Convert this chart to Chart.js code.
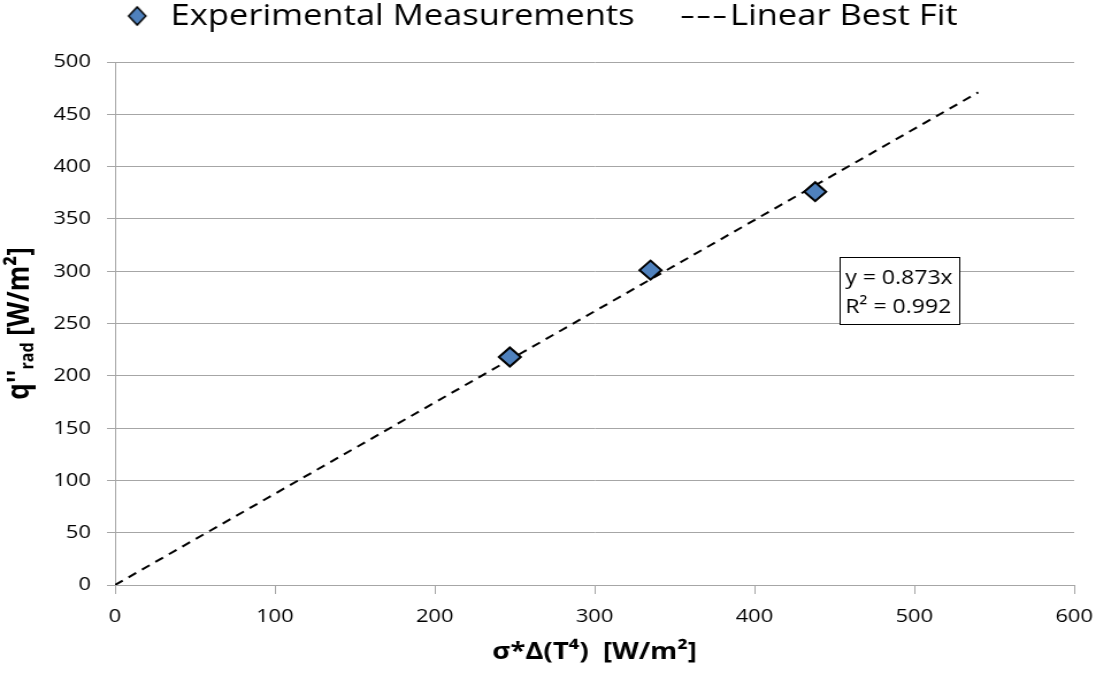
<!DOCTYPE html>
<html>
<head>
<meta charset="utf-8">
<script src="https://cdn.jsdelivr.net/npm/chart.js@4.4.1/dist/chart.umd.min.js"></script>
<style>
  html, body { margin: 0; padding: 0; background: #fff; overflow: hidden; }
  /* 原图是横向拉伸过的，这里用同样的比例拉伸画布 */
  #wrap { width: 953px; height: 679px; transform: scaleX(1.15005); transform-origin: 0 0; }
</style>
</head>
<body>
<div id="wrap"><canvas id="fitChart"></canvas></div>
<script>
// 数据
const measX = [247, 335, 438];
const measY = [218, 301, 376];
const fitX = [0, 540];
const fitY = [0, 471];
const fitText = ['y = 0.873x', 'R\u00b2 = 0.992'];
const xTicks = [0, 100, 200, 300, 400, 500, 600];
const yTicks = [0, 50, 100, 150, 200, 250, 300, 350, 400, 450, 500];

const FONT = '"Open Sans", "DejaVu Sans", sans-serif';
const GRID = '#a6a6a6';

Chart.defaults.font.family = FONT;
Chart.defaults.color = '#000';

// 图例用的小图标
function diamondIcon() {
    const c = document.createElement('canvas');
    c.width = 22; c.height = 24;
    const g = c.getContext('2d');
    g.beginPath();
    g.moveTo(11, 3); g.lineTo(18.5, 12); g.lineTo(11, 21); g.lineTo(3.5, 12); g.closePath();
    g.fillStyle = '#4f81bd';
    g.fill();
    g.lineWidth = 1.5;
    g.strokeStyle = '#000';
    g.stroke();
    return c;
}
function dashIcon() {
    const c = document.createElement('canvas');
    c.width = 60; c.height = 8;
    const g = c.getContext('2d');
    g.fillStyle = '#000';
    for (let i = 0; i < 3; i++) g.fillRect(17 + i * 14, 4, 10, 2);
    return c;
}

// 图例位置微调
const legendShift = {
    id: 'legendShift',
    afterLayout(chart) {
        const lg = chart.legend;
        if (!lg) return;
        const h = lg.bottom - lg.top;
        lg.top = 0;
        lg.bottom = h;
        lg.left += 2;
        lg.right += 2;
    }
};

// 轴标题和公式框
const extrasPlugin = {
    id: 'extras',
    afterDraw(chart) {
        const ctx = chart.ctx;
        const area = chart.chartArea;
        const xs = chart.scales.x, ys = chart.scales.y;
        ctx.save();

        // y 轴标题 (带下标)
        ctx.translate(25, (area.top + area.bottom) / 2);
        ctx.rotate(-Math.PI / 2);
        const big = 'bold 26px ' + FONT, small = 'bold 16px ' + FONT;
        const parts = [["q''", big, 0], ['rad', small, 4], [' [W/m\u00b2]', big, 0]];
        let total = 0;
        parts.forEach(p => { ctx.font = p[1]; total += ctx.measureText(p[0]).width; });
        let x = -total / 2;
        ctx.textBaseline = 'alphabetic';
        ctx.fillStyle = '#000';
        parts.forEach(p => {
            ctx.font = p[1];
            ctx.fillText(p[0], x, p[2]);
            x += ctx.measureText(p[0]).width;
        });
        ctx.setTransform(1, 0, 0, 1, 0, 0);

        // x 轴标题
        ctx.font = 'bold 24px ' + FONT;
        ctx.textAlign = 'center';
        ctx.textBaseline = 'middle';
        ctx.fillText('\u03c3*\u0394(T\u2074)  [W/m\u00b2]', (area.left + area.right) / 2, 652);

        // 拟合公式框
        const bx = Math.round(xs.getPixelForValue(453)), by = Math.round(ys.getPixelForValue(314));
        const bw = 104, bh = 67;
        ctx.fillStyle = '#fff';
        ctx.fillRect(bx, by, bw, bh);
        ctx.strokeStyle = '#000';
        ctx.lineWidth = 1;
        ctx.strokeRect(bx + 0.5, by + 0.5, bw, bh);
        ctx.fillStyle = '#000';
        ctx.font = '20px ' + FONT;
        ctx.textAlign = 'left';
        ctx.textBaseline = 'alphabetic';
        ctx.fillText(fitText[0], bx + 5, by + 27);
        ctx.fillText(fitText[1], bx + 5, by + 56);
        ctx.restore();
    }
};

new Chart(document.getElementById('fitChart'), {
    type: 'scatter',
    data: {
        datasets: [{
            label: 'Experimental Measurements',
            data: measX.map((v, i) => ({ x: v, y: measY[i] })),
            pointStyle: 'rectRot',
            pointRadius: 9.5,
            pointHoverRadius: 9.5,
            backgroundColor: '#4f81bd',
            borderColor: '#000',
            borderWidth: 2,
            showLine: false,
            order: 1
        }, {
            label: 'Linear Best Fit',
            data: fitX.map((v, i) => ({ x: v, y: fitY[i] })),
            showLine: true,
            borderColor: '#000',
            borderWidth: 2,
            borderDash: [8, 6],
            pointRadius: 0,
            pointHoverRadius: 0,
            fill: false,
            order: 2
        }]
    },
    options: {
        responsive: true,
        maintainAspectRatio: false,
        animation: false,
        layout: { padding: { left: 0, right: 19, top: 0, bottom: 0 } },
        plugins: {
            tooltip: { enabled: false },
            legend: {
                display: true,
                position: 'top',
                labels: {
                    font: { size: 30 },
                    color: '#000',
                    usePointStyle: true,
                    boxWidth: 28,
                    boxHeight: 28,
                    padding: 1,
                    generateLabels() {
                        return [
                            { text: 'Experimental Measurements     ', pointStyle: diamondIcon(), fillStyle: '#4f81bd', strokeStyle: '#000', lineWidth: 0, datasetIndex: 0 },
                            { text: 'Linear Best Fit', pointStyle: dashIcon(), fillStyle: '#000', strokeStyle: '#000', lineWidth: 0, datasetIndex: 1 }
                        ];
                    }
                }
            }
        },
        scales: {
            x: {
                type: 'linear',
                min: 0,
                max: 600,
                afterBuildTicks(scale) { scale.ticks = xTicks.map(v => ({ value: v })); },
                afterFit(scale) { scale.height = 94; scale.paddingLeft = 0; scale.paddingRight = 0; },
                grid: {
                    drawOnChartArea: false,
                    drawTicks: true,
                    tickLength: 9,
                    color: GRID
                },
                border: { color: GRID, width: 1 },
                ticks: { font: { size: 19 }, color: '#000', padding: 11 }
            },
            y: {
                type: 'linear',
                min: 0,
                max: 500,
                afterBuildTicks(scale) { scale.ticks = yTicks.map(v => ({ value: v })); },
                afterFit(scale) { scale.width = 100; scale.paddingTop = 62; },
                grid: {
                    drawOnChartArea: true,
                    drawTicks: true,
                    tickLength: 7,
                    color: GRID
                },
                border: { color: GRID, width: 1 },
                ticks: { font: { size: 19 }, color: '#000', padding: 14 }
            }
        }
    },
    plugins: [legendShift, extrasPlugin]
});
</script>
</body>
</html>
